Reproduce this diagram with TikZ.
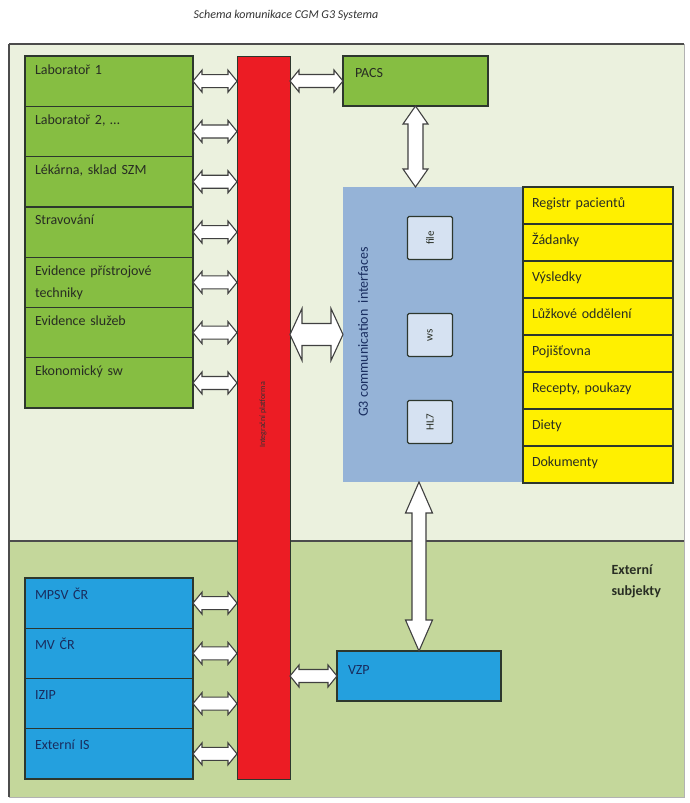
\documentclass[tikz,border=0pt]{standalone}
\usepackage{fontspec}
\setmainfont{Carlito}
\usepackage{tikz}
\usetikzlibrary{positioning,calc}

\definecolor{lightbg}{RGB}{235,241,222}
\definecolor{darkbg}{RGB}{196,215,155}
\definecolor{grnfill}{RGB}{134,190,66}
\definecolor{bluefill}{RGB}{36,160,222}
\definecolor{yelfill}{RGB}{255,240,0}
\definecolor{busred}{RGB}{236,28,36}
\definecolor{g3fill}{RGB}{149,179,215}
\definecolor{ifill}{RGB}{214,226,242}
\definecolor{boxline}{RGB}{45,55,45}
\definecolor{txtdark}{RGB}{40,45,35}
\definecolor{txtnavy}{RGB}{25,45,95}

% double block arrow, left to right: start, end, half shaft, half head, head length
\newcommand{\harr}[5]{%
  \draw[flowarrow] let \p1=(#1), \p2=(#2) in
    (\x1,\y1) -- (\x1+#5,\y1+#4) -- (\x1+#5,\y1+#3) -- (\x2-#5,\y1+#3)
    -- (\x2-#5,\y1+#4) -- (\x2,\y1) -- (\x2-#5,\y1-#4) -- (\x2-#5,\y1-#3)
    -- (\x1+#5,\y1-#3) -- (\x1+#5,\y1-#4) -- cycle;}
% double block arrow, top to bottom
\newcommand{\varr}[5]{%
  \draw[flowarrow] let \p1=(#1), \p2=(#2) in
    (\x1,\y1) -- (\x1+#4,\y1-#5) -- (\x1+#3,\y1-#5) -- (\x1+#3,\y2+#5)
    -- (\x1+#4,\y2+#5) -- (\x1,\y2) -- (\x1-#4,\y2+#5) -- (\x1-#3,\y2+#5)
    -- (\x1-#3,\y1-#5) -- (\x1-#4,\y1-#5) -- cycle;}

\begin{document}
\begin{tikzpicture}[
        x=1pt, y=-1pt,
        font=\fontsize{14}{22}\selectfont,
        grnbox/.style={draw=boxline, line width=1.3pt, fill=grnfill, outer sep=0pt, inner xsep=10pt, inner ysep=0pt, text width=148pt, align=left, text height=18pt, text depth=32.3pt, text=txtdark},
        bluebox/.style={grnbox, fill=bluefill, text=txtnavy, text height=21pt, text depth=29.25pt},
        yelbox/.style={grnbox, fill=yelfill, inner xsep=9pt, text width=132pt, text height=20pt, text depth=17pt},
        ifbox/.style={draw=boxline, line width=1.3pt, fill=ifill, rounded corners=1.5pt, minimum width=45pt, minimum height=43pt, inner sep=0pt, font=\fontsize{11}{11}\selectfont, text=txtdark},
        flowarrow/.style={draw=black!75, line width=1.1pt, fill=white, line join=miter}
      ]
        \useasboundingbox (0,0) rectangle (689,803);
        \fill[white] (0,0) rectangle (689,803);

        % sections
        \fill[lightbg] (9,44) rectangle (684,541);
        \fill[darkbg] (9,541) rectangle (684,797);
        \draw[black!30, line width=1pt] (684,44) -- (684,797) -- (9,797);
        \draw[black!70, line width=2pt] (9,44) -- (684,44);
        \draw[black!70, line width=1.3pt] (9,44) -- (9,797);
        \draw[black!70, line width=1.5pt] (9,541) -- (684,541);

        \node[font=\fontsize{12}{12}\itshape, text=black!80] (title) at (286,15) {Schema komunikace CGM G3 Systema};

        % internal systems
        \node[grnbox, anchor=north west] (lab1) at (25,56) {Laboratoř 1};
        \node[grnbox, below=0pt of lab1] (lab2) {Laboratoř 2, \dots};
        \node[grnbox, below=0pt of lab2] (lek) {Lékárna, sklad SZM};
        \node[grnbox, below=0pt of lek] (strav) {Stravování};
        \node[grnbox, below=0pt of strav] (tech) {Evidence přístrojové techniky};
        \node[grnbox, below=0pt of tech] (sluz) {Evidence služeb};
        \node[grnbox, below=0pt of sluz] (ekon) {Ekonomický sw};

        % external subjects
        \node[bluebox, anchor=north west] (mpsv) at (25,578) {MPSV ČR};
        \node[bluebox, below=0pt of mpsv] (mv) {MV ČR};
        \node[bluebox, below=0pt of mv] (izip) {IZIP};
        \node[bluebox, below=0pt of izip] (extis) {Externí IS};

        % integration bus
        \node[draw=boxline, line width=0.8pt, fill=busred, outer sep=0pt, minimum width=53pt, minimum height=723pt, anchor=north west] (bus) at (237,56) {};
        \node[rotate=90, font=\fontsize{8}{8}\selectfont, text=black!80] (bustext) at (263,415) {Integrační platforma};

        \node[grnbox, anchor=north west, inner xsep=12pt, text width=121pt, text height=21pt, text depth=29pt] (pacs) at (343,56) {PACS};
        \node[bluebox, anchor=north west, inner xsep=11pt, text width=142pt, text height=23pt, text depth=27pt] (vzp) at (337,651) {VZP};

        % G3 interfaces
        \node[fill=g3fill, outer sep=0pt, minimum width=180pt, minimum height=295pt, anchor=north west] (g3) at (343,187) {};
        \node[rotate=90, text=txtnavy] (g3text) at (363,332) {G3 communication\ \ interfaces};
        \node[ifbox] (file) at (430,238) {\rotatebox{90}{file}};
        \node[ifbox] (ws) at (430,335) {\rotatebox{90}{ws}};
        \node[ifbox] (hl7) at (430,422) {\rotatebox{90}{HL7}};

        % G3 modules
        \node[yelbox, anchor=north west] (reg) at (523,187) {Registr pacientů};
        \node[yelbox, below=0pt of reg] (zad) {Žádanky};
        \node[yelbox, below=0pt of zad] (vys) {Výsledky};
        \node[yelbox, below=0pt of vys] (luz) {Lůžkové oddělení};
        \node[yelbox, below=0pt of luz] (poj) {Pojišťovna};
        \node[yelbox, below=0pt of poj] (rec) {Recepty, poukazy};
        \node[yelbox, below=0pt of rec] (diety) {Diety};
        \node[yelbox, below=0pt of diety] (dok) {Dokumenty};

        \node[font=\fontsize{14}{21}\bfseries\selectfont, align=left, anchor=north west, text=txtdark] (ext) at (608,561) {Externí\\subjekty};

        % connections
        \foreach \n in {lab1,lab2,lek,strav,tech,sluz,ekon,mpsv,mv,izip,extis}
          \coordinate (\n-in) at (bus.west|-\n.east);
        \coordinate (pacs-out) at (bus.east|-pacs.west);
        \coordinate (vzp-out) at (bus.east|-vzp.west);
        \coordinate (g3-out) at (bus.east|-g3.west);
        \coordinate (g3-top) at (pacs.south|-g3.north);
        \coordinate (g3-bot) at (vzp.north|-g3.south);

        \harr{lab1.east}{lab1-in}{6.5pt}{11pt}{9pt}
        \harr{lab2.east}{lab2-in}{6.5pt}{11pt}{9pt}
        \harr{lek.east}{lek-in}{6.5pt}{11pt}{9pt}
        \harr{strav.east}{strav-in}{6.5pt}{11pt}{9pt}
        \harr{tech.east}{tech-in}{6.5pt}{11pt}{9pt}
        \harr{sluz.east}{sluz-in}{6.5pt}{11pt}{9pt}
        \harr{ekon.east}{ekon-in}{6.5pt}{11pt}{9pt}
        \harr{mpsv.east}{mpsv-in}{6.5pt}{11pt}{9pt}
        \harr{mv.east}{mv-in}{6.5pt}{11pt}{9pt}
        \harr{izip.east}{izip-in}{6.5pt}{11pt}{9pt}
        \harr{extis.east}{extis-in}{6.5pt}{11pt}{9pt}
        \harr{pacs-out}{pacs.west}{6.5pt}{11pt}{9pt}
        \harr{vzp-out}{vzp.west}{6.5pt}{11pt}{9pt}
        \harr{g3-out}{g3.west}{11pt}{26pt}{12pt}
        \varr{pacs.south}{g3-top}{7.5pt}{12.5pt}{18pt}
        \varr{g3-bot}{vzp.north}{7pt}{13.5pt}{31pt}
      \end{tikzpicture}
\end{document}
